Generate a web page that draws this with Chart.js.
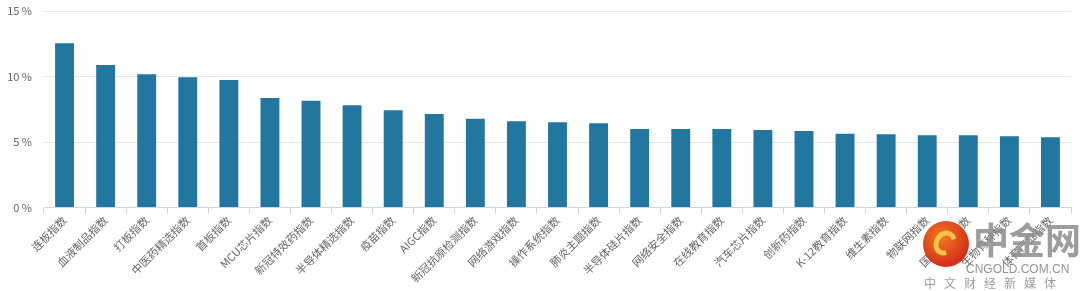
<!DOCTYPE html>
<html><head><meta charset="utf-8">
<script src="https://cdn.jsdelivr.net/npm/chart.js@4"></script>
<style>
html,body{margin:0;padding:0;background:#fff;}
#wrap{position:relative;width:1080px;height:291px;}
canvas{display:block;}
#wm{position:absolute;left:0;top:0;width:1080px;height:291px;pointer-events:none;font-family:"Noto Sans CJK SC",sans-serif;white-space:nowrap;}
#logo{position:absolute;left:923px;top:221px;width:46px;height:46px;border-radius:50%;background:radial-gradient(circle at 40% 35%,#f07a20,#d5301a 70%);}
#logo span{position:absolute;left:11px;top:9px;width:22px;height:26px;border-radius:50%;border:5px solid #f6c445;border-right-color:transparent;transform:rotate(30deg);box-sizing:border-box;}
#wmt{position:absolute;left:973px;top:216px;font-size:36px;font-weight:700;color:rgba(140,140,140,0.85);letter-spacing:0px;line-height:44px;}
#wmu{position:absolute;left:966px;top:262px;font-size:12px;color:rgba(130,130,130,0.85);font-family:"Liberation Sans",sans-serif;line-height:14px;}
#wmc{position:absolute;left:924px;top:276px;font-size:12px;color:rgba(140,140,140,0.85);letter-spacing:8px;line-height:14px;}
</style></head>
<body>
<div id="wrap">
<canvas id="c" width="1080" height="291"></canvas>
<div id="wm"><div id="logo"><span></span></div><div id="wmt">中金网</div><div id="wmu">CNGOLD.COM.CN</div><div id="wmc">中文财经新媒体</div></div>
</div>
<script>
const categories = ["连板指数","血液制品指数","打板指数","中医药精选指数","首板指数","MCU芯片指数","新冠特效药指数","半导体精选指数","疫苗指数","AIGC指数","新冠抗原检测指数","网络游戏指数","操作系统指数","肺炎主题指数","半导体硅片指数","网络安全指数","在线教育指数","汽车芯片指数","创新药指数","K-12教育指数","维生素指数","物联网指数","国产软件指数","生物育种指数","体育产业指数"];
const values = [12.53,10.88,10.17,9.94,9.73,8.36,8.15,7.80,7.42,7.14,6.78,6.58,6.50,6.43,5.99,5.99,5.99,5.92,5.84,5.63,5.59,5.51,5.51,5.44,5.36];
const yTicks = [0,5,10,15];

const font = {family:'"Noto Sans CJK SC", sans-serif', size:11};
new Chart(document.getElementById('c'), {
  type:'bar',
  data:{labels:categories,datasets:[{data:values,backgroundColor:'#2277a1',borderWidth:0,barPercentage:0.46,categoryPercentage:1}]},
  options:{
    responsive:false,animation:false,
    layout:{padding:{left:0,right:9,top:11,bottom:0}},
    plugins:{legend:{display:false},tooltip:{enabled:false}},
    scales:{
      x:{
        grid:{display:true,drawOnChartArea:false,drawTicks:true,tickLength:6,color:'#ccd6eb',offset:true},
        border:{display:true,color:'#ccd6eb',width:1},
        ticks:{color:'#666',font:font,maxRotation:45,minRotation:45,autoSkip:false,padding:0},
        afterFit(s){s.height=83.5;s.paddingTop=0;s.paddingBottom=0;s.paddingLeft=0;s.paddingRight=0;}
      },
      y:{
        min:0,max:15,
        afterBuildTicks(s){s.ticks=yTicks.map(v=>({value:v}));},
        grid:{color:'#e6e6e6',drawTicks:false},
        border:{display:false},
        ticks:{color:'#666',font:font,padding:12,callback:v=>v+' %'},
        afterFit(s){s.width=44;s.paddingTop=0;s.paddingBottom=0;}
      }
    }
  }
});
</script>
</body></html>
